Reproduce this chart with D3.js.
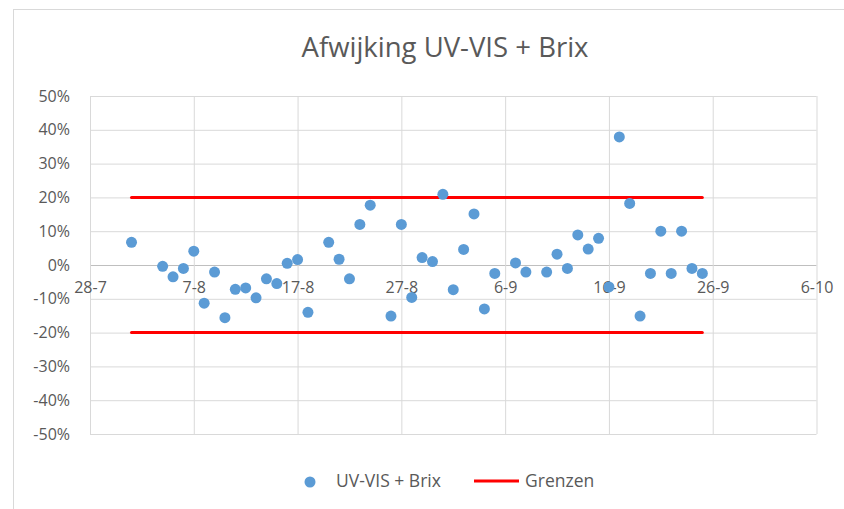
<!DOCTYPE html>
<html>
<head>
<meta charset="utf-8">
<script src="https://cdn.jsdelivr.net/npm/d3@7"></script>
<style>
  html, body { margin: 0; padding: 0; background: #fff; }
  svg { display: block; font-family: "Open Sans", sans-serif; }
</style>
</head>
<body>
<svg id="chart" width="844" height="509"></svg>
<script>
// measured deviations (day-month, fraction)
const dates = ["1-8","4-8","5-8","6-8","7-8","8-8","9-8","10-8","11-8","12-8","13-8","14-8","15-8","16-8","17-8","18-8",
  "20-8","21-8","22-8","23-8","24-8","26-8","27-8","28-8","29-8","30-8","31-8","1-9","2-9","3-9","4-9","5-9",
  "7-9","8-9","10-9","11-9","12-9","13-9","14-9","15-9","16-9","17-9","18-9","19-9","20-9","21-9","22-9","23-9","24-9","25-9"];
const values = [0.067,-0.004,-0.035,-0.010,0.041,-0.113,-0.021,-0.156,-0.072,-0.068,-0.097,-0.041,-0.055,0.005,0.016,-0.140,
  0.067,0.017,-0.041,0.120,0.177,-0.151,0.120,-0.096,0.022,0.010,0.209,-0.073,0.046,0.151,-0.130,-0.025,
  0.006,-0.021,-0.021,0.032,-0.010,0.089,0.047,0.079,-0.065,0.379,0.182,-0.151,-0.025,0.100,-0.025,0.100,-0.010,-0.025];

// limit lines (Grenzen)
const limitDates = ["1-8","25-9"];
const limitValues = [0.2, -0.2];

const xTickLabels = ["28-7","7-8","17-8","27-8","6-9","16-9","26-9","6-10"];
const yTicks = [0.5,0.4,0.3,0.2,0.1,0,-0.1,-0.2,-0.3,-0.4,-0.5];

const parseDay = s => d3.timeParse("%d-%m-%Y")(s + "-2017");
const pct = d => d3.format(".0%")(d).replace("\u2212", "-");

const svg = d3.select("#chart");
const margin = { top: 96, right: 27.5, bottom: 75, left: 90 };
const width = 844, height = 509;

// chart area frame
svg.append("rect")
  .attr("x", 13.5).attr("y", 9.5)
  .attr("width", 900).attr("height", 600)
  .attr("fill", "#fff")
  .attr("stroke", "#d9d9d9");

const xScale = d3.scaleTime()
  .domain([parseDay("28-7"), parseDay("6-10")])
  .range([margin.left, width - margin.right]);

const yScale = d3.scaleLinear()
  .domain([-0.5, 0.5])
  .range([height - margin.bottom, margin.top]);

// gridlines
const yGrid = d3.axisLeft(yScale)
  .tickValues(yTicks)
  .tickSize(-(width - margin.right - margin.left))
  .tickFormat("");
svg.append("g")
  .attr("transform", `translate(${margin.left},0)`)
  .call(yGrid)
  .call(g => g.select(".domain").remove())
  .selectAll("line")
  .attr("stroke", d => d === 0 ? "#bfbfbf" : "#d9d9d9");

const xGrid = d3.axisBottom(xScale)
  .tickValues(xTickLabels.map(parseDay))
  .tickSize(-(height - margin.bottom - margin.top))
  .tickFormat("");
svg.append("g")
  .attr("transform", `translate(0,${height - margin.bottom})`)
  .call(xGrid)
  .call(g => g.select(".domain").remove())
  .selectAll("line")
  .attr("stroke", "#d9d9d9");

// y axis labels
const yAxis = d3.axisLeft(yScale)
  .tickValues(yTicks)
  .tickSize(0)
  .tickPadding(20)
  .tickFormat(pct);
svg.append("g")
  .attr("transform", `translate(${margin.left},0)`)
  .call(yAxis)
  .call(g => g.select(".domain").remove())
  .selectAll("text")
  .attr("fill", "#595959")
  .style("font-size", "16px")
  .style("font-family", "'Open Sans', sans-serif");

// x axis labels, axis crosses at 0%
const xAxis = d3.axisBottom(xScale)
  .tickValues(xTickLabels.map(parseDay))
  .tickSize(0)
  .tickPadding(17)
  .tickFormat(d3.timeFormat("%-d-%-m"));
svg.append("g")
  .attr("transform", `translate(0,${yScale(0)})`)
  .call(xAxis)
  .call(g => g.select(".domain").remove())
  .selectAll("text")
  .attr("fill", "#595959")
  .style("font-size", "16px")
  .style("font-family", "'Open Sans', sans-serif");

// limit lines
limitValues.forEach(v => {
  svg.append("line")
    .attr("x1", xScale(parseDay(limitDates[0])))
    .attr("x2", xScale(parseDay(limitDates[1])))
    .attr("y1", yScale(v))
    .attr("y2", yScale(v))
    .attr("stroke", "#ff0000")
    .attr("stroke-width", 3)
    .attr("stroke-linecap", "round");
});

// scatter points
svg.append("g")
  .selectAll("circle")
  .data(dates.map((d, i) => ({ date: parseDay(d), value: values[i] })))
  .join("circle")
  .attr("cx", d => xScale(d.date))
  .attr("cy", d => yScale(d.value))
  .attr("r", 5.5)
  .attr("fill", "#5b9bd5");

// title
svg.append("text")
  .attr("x", 445)
  .attr("y", 57)
  .attr("text-anchor", "middle")
  .attr("fill", "#595959")
  .style("font-size", "27.5px")
  .text("Afwijking UV-VIS + Brix");

// legend
const legend = svg.append("g").attr("transform", "translate(0,481)");
legend.append("circle")
  .attr("cx", 310).attr("cy", 1).attr("r", 5.5)
  .attr("fill", "#5b9bd5");
legend.append("text")
  .attr("x", 336).attr("y", 6)
  .attr("fill", "#595959")
  .style("font-size", "17.5px")
  .text("UV-VIS + Brix");
legend.append("line")
  .attr("x1", 474).attr("x2", 519)
  .attr("y1", 0).attr("y2", 0)
  .attr("stroke", "#ff0000")
  .attr("stroke-width", 3);
legend.append("text")
  .attr("x", 525).attr("y", 6)
  .attr("fill", "#595959")
  .style("font-size", "17.5px")
  .text("Grenzen");
</script>
</body>
</html>
